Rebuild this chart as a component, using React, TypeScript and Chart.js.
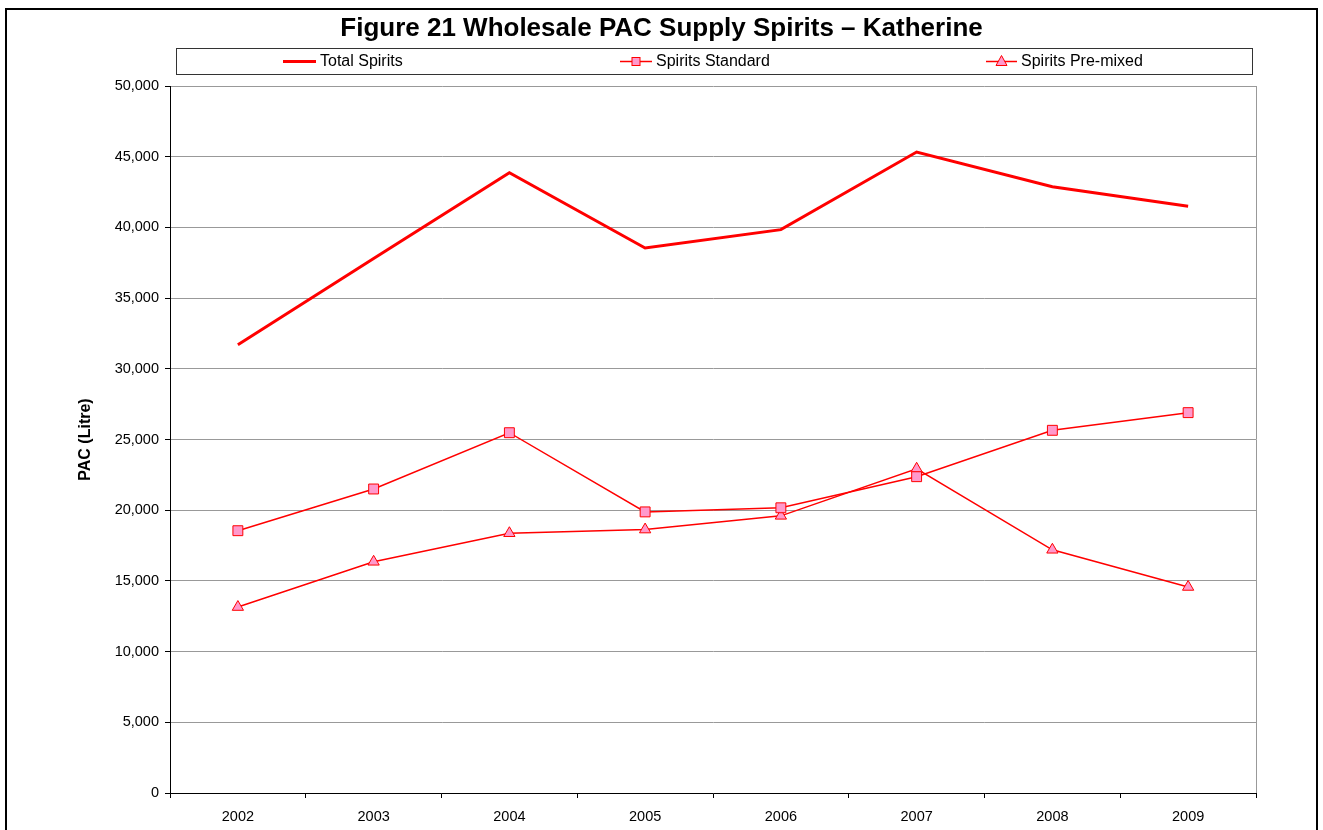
import React, { useEffect, useRef } from "react";
import { Chart, registerables } from "chart.js";

Chart.register(...registerables);

const categories = ["2002", "2003", "2004", "2005", "2006", "2007", "2008", "2009"];
const totalSpirits = [31700, 37800, 43870, 38540, 39840, 45330, 42880, 41490];
const spiritsStandard = [18550, 21500, 25480, 19880, 20170, 22370, 25650, 26900];
const spiritsPremixed = [13150, 16350, 18370, 18630, 19600, 22930, 17200, 14570];
const seriesNames = ["Total Spirits", "Spirits Standard", "Spirits Pre-mixed"];
const chartTitle = "Figure 21 Wholesale PAC Supply Spirits \u2013 Katherine";
const yAxisTitle = "PAC (Litre)";

const FONT = "'Liberation Sans', Arial, Helvetica, sans-serif";
const RED = "#FF0000";
const PINK = "#FF99CC";

const decorPlugin = {
  id: "decor",
  beforeDraw(chart: any) {
    const ctx = chart.ctx;
    ctx.save();
    ctx.fillStyle = "#fff";
    ctx.fillRect(0, 0, chart.width, chart.height);
    ctx.strokeStyle = "#000";
    ctx.lineWidth = 2;
    ctx.strokeRect(6, 9, 1311, 900);
    ctx.restore();
  },
  beforeDatasetsDraw(chart: any) {
    const { ctx, chartArea } = chart;
    ctx.save();
    ctx.strokeStyle = "#999";
    ctx.lineWidth = 1;
    ctx.beginPath();
    ctx.moveTo(Math.round(chartArea.right) + 0.5, chartArea.top);
    ctx.lineTo(Math.round(chartArea.right) + 0.5, chartArea.bottom);
    ctx.stroke();
    ctx.restore();
  },
  afterDraw(chart: any) {
    const ctx = chart.ctx;
    ctx.save();
    ctx.strokeStyle = "#333";
    ctx.lineWidth = 1;
    ctx.fillStyle = "#fff";
    ctx.fillRect(176.5, 48.5, 1076, 26);
    ctx.strokeRect(176.5, 48.5, 1076, 26);
    const cy = 61.5;
    const entries = [
      { x0: 283, x1: 316, tx: 320 },
      { x0: 620, x1: 652, tx: 656 },
      { x0: 986, x1: 1017, tx: 1021 },
    ];
    chart.data.datasets.forEach((ds: any, i: number) => {
      const e = entries[i];
      if (!e) return;
      ctx.strokeStyle = ds.borderColor;
      ctx.lineWidth = ds.borderWidth;
      ctx.beginPath();
      ctx.moveTo(e.x0, cy);
      ctx.lineTo(e.x1, cy);
      ctx.stroke();
      const mx = (e.x0 + e.x1) / 2;
      if (ds.pointStyle === "rect") {
        ctx.fillStyle = ds.pointBackgroundColor;
        ctx.strokeStyle = ds.pointBorderColor;
        ctx.lineWidth = 1;
        ctx.fillRect(mx - 4, cy - 4, 8, 8);
        ctx.strokeRect(mx - 4, cy - 4, 8, 8);
      } else if (ds.pointStyle === "triangle") {
        ctx.fillStyle = ds.pointBackgroundColor;
        ctx.strokeStyle = ds.pointBorderColor;
        ctx.lineWidth = 1;
        ctx.beginPath();
        ctx.moveTo(mx, cy - 6);
        ctx.lineTo(mx + 5.5, cy + 4);
        ctx.lineTo(mx - 5.5, cy + 4);
        ctx.closePath();
        ctx.fill();
        ctx.stroke();
      }
      ctx.fillStyle = "#000";
      ctx.font = `16px ${FONT}`;
      ctx.textBaseline = "middle";
      ctx.textAlign = "left";
      ctx.fillText(ds.label, e.tx, cy + 0.5);
    });
    ctx.restore();
  },
};

export default function App() {
  const ref = useRef<HTMLCanvasElement | null>(null);
  useEffect(() => {
    if (!ref.current) return;
    const chart = new Chart(ref.current, {
      type: "line",
      data: {
        labels: categories,
        datasets: [
          {
            label: seriesNames[0],
            data: totalSpirits,
            borderColor: RED,
            backgroundColor: RED,
            borderWidth: 3,
            pointRadius: 0,
            pointHoverRadius: 0,
            tension: 0,
          },
          {
            label: seriesNames[1],
            data: spiritsStandard,
            borderColor: RED,
            backgroundColor: PINK,
            borderWidth: 1.5,
            pointStyle: "rect",
            pointRadius: 7,
            pointBackgroundColor: PINK,
            pointBorderColor: RED,
            pointBorderWidth: 1,
            tension: 0,
          },
          {
            label: seriesNames[2],
            data: spiritsPremixed,
            borderColor: RED,
            backgroundColor: PINK,
            borderWidth: 1.5,
            pointStyle: "triangle",
            pointRadius: 6.5,
            pointBackgroundColor: PINK,
            pointBorderColor: RED,
            pointBorderWidth: 1,
            tension: 0,
          },
        ],
      },
      options: {
        responsive: false,
        animation: false,
        events: [],
        layout: { padding: { left: 0, right: 0, top: 0, bottom: 0 } },
        plugins: {
          legend: { display: false },
          tooltip: { enabled: false },
          title: {
            display: true,
            text: chartTitle,
            color: "#000",
            font: { family: FONT, size: 26, weight: "bold" },
            padding: { top: 13, bottom: 41.8 },
          },
        },
        scales: {
          x: {
            type: "category",
            offset: true,
            afterFit: (s: any) => {
              s.height = 37;
            },
            grid: {
              offset: true,
              drawOnChartArea: false,
              drawTicks: true,
              tickLength: 5,
              tickColor: "#000",
              color: "#000",
            },
            border: { display: true, color: "#000", width: 1 },
            ticks: {
              color: "#000",
              font: { family: FONT, size: 14.5 },
              padding: 10,
              maxRotation: 0,
            },
          },
          y: {
            min: 0,
            max: 50000,
            afterFit: (s: any) => {
              s.width = 170;
            },
            grid: {
              color: "#999",
              lineWidth: 1,
              drawTicks: true,
              tickLength: 5,
              tickColor: "#000",
            },
            border: { display: true, color: "#000", width: 1 },
            ticks: {
              stepSize: 5000,
              color: "#000",
              font: { family: FONT, size: 14.5 },
              padding: 6,
              callback: (v: any) => Number(v).toLocaleString("en-US"),
            },
            title: {
              display: true,
              text: yAxisTitle,
              color: "#000",
              font: { family: FONT, size: 16, weight: "bold" },
              padding: { top: 76, bottom: 0 },
            },
          },
          yRight: {
            type: "linear",
            position: "right",
            display: true,
            afterFit: (s: any) => {
              s.width = 67;
            },
            grid: { display: false, drawTicks: false },
            border: { display: false },
            ticks: { display: false },
          },
        },
      },
      plugins: [decorPlugin],
    });
    return () => chart.destroy();
  }, []);
  return (
    <div style={{ position: "absolute", left: 0, top: 0, width: 1323, height: 830 }}>
      <canvas ref={ref} width={1323} height={830} style={{ display: "block" }} />
    </div>
  );
}
